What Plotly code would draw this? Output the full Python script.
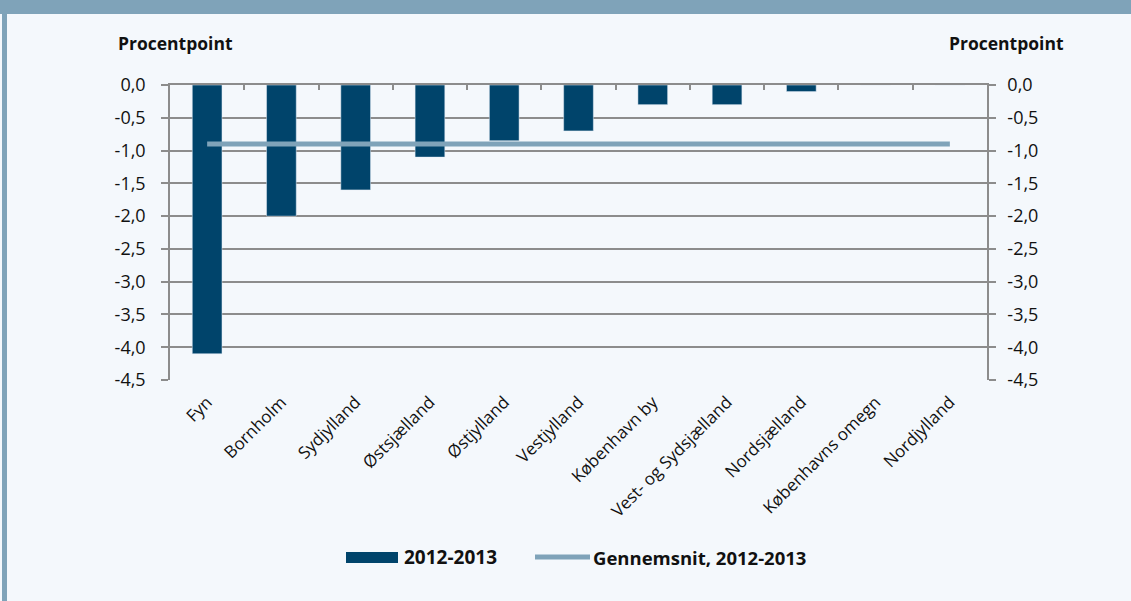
import plotly.graph_objects as go

regions = ["Fyn", "Bornholm", "Sydjylland", "Østsjælland", "Østjylland", "Vestjylland",
           "København by", "Vest- og Sydsjælland", "Nordsjælland", "Københavns omegn", "Nordjylland"]
change_2012_2013 = [-4.1, -2.0, -1.6, -1.1, -0.85, -0.7, -0.3, -0.3, -0.1, 0.0, 0.0]
average_2012_2013 = [-0.9] * len(regions)
y_ticks = [0.0, -0.5, -1.0, -1.5, -2.0, -2.5, -3.0, -3.5, -4.0, -4.5]
y_tick_labels = ["0,0", "-0,5", "-1,0", "-1,5", "-2,0", "-2,5", "-3,0", "-3,5", "-4,0", "-4,5"]

BAR = "#00446b"
LINE = "#7fa3b9"
BG = "#f4f8fc"
GRID = "#8c8c8c"
FONT = "Open Sans"

W, H = 1131, 601
L, R, T, B = 170, 144, 85, 221
pw, ph = W - L - R, H - T - B

def px(x):
    return (x - L) / pw

def py(y):
    return (H - B - y) / ph

fig = go.Figure()
fig.add_trace(go.Bar(x=regions, y=change_2012_2013, marker_color=BAR, width=0.4,
                     name="2012-2013", showlegend=False))
fig.add_trace(go.Scatter(x=regions, y=average_2012_2013, mode="lines",
                         line=dict(color=LINE, width=5), name="Gennemsnit, 2012-2013",
                         showlegend=False, xaxis="x2", yaxis="y2"))

yax = dict(range=[-4.5, 0], tickvals=y_ticks, ticktext=y_tick_labels, showgrid=True,
           gridcolor=GRID, gridwidth=1.5, showline=True, linecolor=GRID, linewidth=1.5,
           ticks="outside", ticklen=7, tickcolor=GRID, tickwidth=1.5,
           tickfont=dict(family=FONT, size=18, color="#111"), zeroline=False,
           ticklabelstandoff=12)

fig.update_layout(
    width=W, height=H,
    paper_bgcolor=BG, plot_bgcolor=BG,
    margin=dict(l=L, r=R, t=T, b=B),
    xaxis=dict(type="category", categoryorder="array", categoryarray=regions,
               tickangle=-45, ticks="", showline=False, showgrid=False,
               tickfont=dict(family=FONT, size=17, color="#111"), ticklabelstandoff=8),
    xaxis2=dict(type="category", categoryorder="array", categoryarray=regions,
                overlaying="x", side="top", matches="x", showticklabels=False,
                ticks="inside", tickson="boundaries", ticklen=5, tickcolor=GRID,
                tickwidth=1.5, showline=True, linecolor=GRID, linewidth=1.5, showgrid=False),
    yaxis=yax,
    yaxis2=dict(yax, overlaying="y", side="right", showgrid=False, matches="y",
                ticklabelstandoff=8),
    showlegend=False,
)

# header band and left border
fig.add_shape(type="rect", xref="paper", yref="paper", x0=px(0), x1=px(W), y0=py(14), y1=py(0),
              fillcolor=LINE, line_width=0, layer="above")
fig.add_shape(type="rect", xref="paper", yref="paper", x0=px(2), x1=px(7), y0=py(H), y1=py(0),
              fillcolor=LINE, line_width=0, layer="above")

# axis titles
for xpos in (175, 1006):
    fig.add_annotation(x=px(xpos), y=py(43), xref="paper", yref="paper", text="<b>Procentpoint</b>",
                       xanchor="center", yanchor="middle",
                       showarrow=False, font=dict(family=FONT, size=17.5, color="#111"))

# legend
fig.add_shape(type="rect", xref="paper", yref="paper", x0=px(346), x1=px(398), y0=py(563), y1=py(552),
              fillcolor=BAR, line_width=0)
fig.add_annotation(x=px(402), y=py(557), xref="paper", yref="paper", text="<b>2012-2013</b>",
                   xanchor="left", yanchor="middle", showarrow=False,
                   font=dict(family=FONT, size=19, color="#111"))
fig.add_shape(type="line", xref="paper", yref="paper", x0=px(535), x1=px(590), y0=py(557), y1=py(557),
              line=dict(color=LINE, width=5))
fig.add_annotation(x=px(591), y=py(557), xref="paper", yref="paper", text="<b>Gennemsnit, 2012-2013</b>",
                   xanchor="left", yanchor="middle", showarrow=False,
                   font=dict(family=FONT, size=18.5, color="#111"))

fig.write_html("out.html", config={"displayModeBar": False},
               post_script="document.body.style.margin='0';document.body.style.background='%s';" % BG)
